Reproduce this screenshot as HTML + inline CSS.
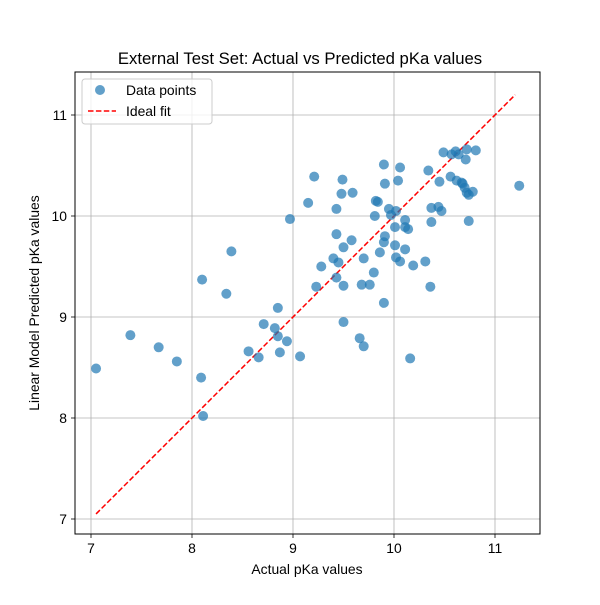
<!DOCTYPE html>
<html><head><meta charset="utf-8"><style>
body{margin:0;background:#fff;}
svg text{font-family:"Liberation Sans","DejaVu Sans",sans-serif;fill:#000;}
</style></head><body>
<svg id="chart" width="600" height="600" xmlns="http://www.w3.org/2000/svg">
<rect width="600" height="600" fill="#fff"/>
<g id="grid"></g>
<g id="line"></g>
<g id="pts"></g>
<rect x="75" y="72" width="465" height="462" fill="none" stroke="#000" stroke-width="1"/>
<g id="ticks"></g>
<text x="300" y="64" font-size="16.7" text-anchor="middle">External Test Set: Actual vs Predicted pKa values</text>
<text x="307" y="574" font-size="13.9" text-anchor="middle">Actual pKa values</text>
<text transform="translate(39,303) rotate(-90)" font-size="13.9" text-anchor="middle">Linear Model Predicted pKa values</text>
<g>
<rect x="82" y="79" width="130" height="45" rx="3" fill="#fff" fill-opacity="0.8" stroke="#ccc"/>
<circle cx="100" cy="90" r="5" fill="#1f77b4" fill-opacity="0.7"/>
<text x="126" y="95" font-size="13.9">Data points</text>
<line x1="88" y1="111" x2="116" y2="111" stroke="red" stroke-width="1.5" stroke-dasharray="5.5,2.4"/>
<text x="126" y="116" font-size="13.9">Ideal fit</text>
</g>
</svg>
<script>
const actual=[7.05,7.39,7.67,7.85,8.09,8.11,8.10,8.34,8.39,8.56,8.66,8.71,8.82,8.85,8.85,8.87,8.94,9.07,9.90,10.06,9.21,9.49,10.04,9.91,9.48,9.59,9.15,9.82,9.84,9.43,9.95,10.02,9.97,9.81,8.97,10.11,10.01,10.11,10.14,9.43,9.58,9.50,9.91,9.90,10.01,10.11,9.86,9.70,9.40,9.45,10.02,10.06,10.19,9.28,9.80,9.43,9.23,9.50,9.68,9.76,9.90,9.50,9.66,9.70,10.16,10.49,10.61,10.57,10.64,10.72,10.81,10.71,10.34,10.45,10.56,10.62,10.67,10.68,10.70,10.72,10.74,10.78,11.24,10.37,10.44,10.47,10.37,10.74,10.31,10.36];
const predicted=[8.49,8.82,8.70,8.56,8.40,8.02,9.37,9.23,9.65,8.66,8.60,8.93,8.89,9.09,8.81,8.65,8.76,8.61,10.51,10.48,10.39,10.36,10.35,10.32,10.22,10.23,10.13,10.15,10.14,10.07,10.07,10.05,10.01,10.00,9.97,9.96,9.89,9.89,9.87,9.82,9.76,9.69,9.80,9.74,9.71,9.67,9.64,9.58,9.58,9.54,9.59,9.55,9.51,9.50,9.44,9.39,9.30,9.31,9.32,9.32,9.14,8.95,8.79,8.71,8.59,10.63,10.64,10.61,10.61,10.66,10.65,10.56,10.45,10.34,10.39,10.35,10.33,10.32,10.28,10.23,10.21,10.24,10.30,10.08,10.09,10.05,9.94,9.95,9.55,9.30];
const xTicks=[7,8,9,10,11];
const yTicks=[7,8,9,10,11];
const idealRange=[7.05,11.2];
const NS="http://www.w3.org/2000/svg";
const X=v=>91+(v-7)*101, Y=v=>519-(v-7)*101;
function mk(t,a,p){const e=document.createElementNS(NS,t);for(const k in a)e.setAttribute(k,a[k]);p.appendChild(e);return e;}
const grid=document.getElementById('grid'),ticks=document.getElementById('ticks');
xTicks.forEach(t=>{
 const g=mk('line',{x1:X(t),x2:X(t),y1:72,y2:534,stroke:'#b0b0b0','stroke-width':0.8},grid);
 
 
 mk('line',{x1:X(t),x2:X(t),y1:534,y2:538,stroke:'#000','stroke-width':0.8},ticks);
 const tx=mk('text',{x:X(t),y:553,'font-size':13.9,'text-anchor':'middle'},ticks);
 tx.textContent=t;
 
 
});
yTicks.forEach(t=>{
 const g=mk('line',{x1:75,x2:540,y1:Y(t),y2:Y(t),stroke:'#b0b0b0','stroke-width':0.8},grid);
 
 
 mk('line',{x1:71,x2:75,y1:Y(t),y2:Y(t),stroke:'#000','stroke-width':0.8},ticks);
 const tx=mk('text',{x:67,y:Y(t)+5,'font-size':13.9,'text-anchor':'end'},ticks);
 tx.textContent=t;
 
 
});
const l=mk('line',{x1:X(idealRange[0]),y1:Y(idealRange[0]),x2:X(idealRange[1]),y2:Y(idealRange[1]),stroke:'red','stroke-width':1.5,'stroke-dasharray':'5.5,2.4'},document.getElementById('line'));


const pts=document.getElementById('pts');
actual.forEach((a,i)=>{
 const c=mk('circle',{cx:X(a),cy:Y(predicted[i]),r:5,fill:'#1f77b4','fill-opacity':0.7},pts);
 
 
});
</script>
</body></html>
